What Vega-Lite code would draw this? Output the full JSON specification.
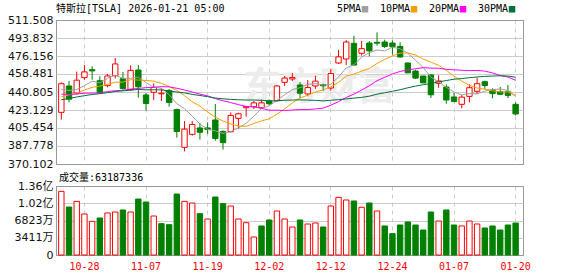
{
  "$schema": "https://vega.github.io/schema/vega-lite/v6.json",
  "padding": {"left": 0, "top": 3, "right": 5, "bottom": 2},
  "background": "white",
  "spacing": 2,
  "config": {
    "view": {"stroke": "#999999"},
    "axis": {"labelFont": "DejaVu Sans, Noto Sans CJK SC", "labelFontSize": 11, "labelColor": "#111111", "ticks": false, "domain": false, "title": null},
    "axisY": {"minExtent": 55, "maxExtent": 55, "labelPadding": 3, "grid": true,
      "gridColor": {"condition": {"test": "datum.index == 0 || datum.index == 1", "value": "#999999"}, "value": "#cccccc"}},
    "axisX": {"grid": true, "gridDash": [4, 4], "gridColor": "#cccccc", "bandPosition": 0.5}
  },
  "datasets": {
    "k": [
      {"d":"10-23","o":420.8,"h":450.3,"l":413.6,"c":448.98,"v":125900000,"dir":"up","vdir":"up","5PMA":443.46,"10PMA":435.98,"20PMA":438.70,"30PMA":433.22},
      {"d":"10-24","o":446.7,"h":451.6,"l":430.7,"c":433.72,"v":94900000,"dir":"down","vdir":"down","5PMA":442.34,"10PMA":438.01,"20PMA":438.37,"30PMA":434.48},
      {"d":"10-27","o":439.8,"h":460.8,"l":438.2,"c":452.42,"v":106100000,"dir":"up","vdir":"up","5PMA":443.34,"10PMA":439.66,"20PMA":438.83,"30PMA":435.89},
      {"d":"10-28","o":454.9,"h":467.3,"l":452.9,"c":460.55,"v":81100000,"dir":"up","vdir":"up","5PMA":446.93,"10PMA":442.79,"20PMA":439.62,"30PMA":437.19},
      {"d":"10-29","o":462.7,"h":466.0,"l":452.9,"c":461.51,"v":66600000,"dir":"down","vdir":"up","5PMA":451.44,"10PMA":445.42,"20PMA":439.72,"30PMA":438.38},
      {"d":"10-30","o":451.9,"h":456.2,"l":439.8,"c":440.10,"v":73200000,"dir":"down","vdir":"down","5PMA":449.66,"10PMA":446.56,"20PMA":439.93,"30PMA":439.15},
      {"d":"10-31","o":447.0,"h":458.5,"l":445.4,"c":456.56,"v":83100000,"dir":"up","vdir":"up","5PMA":454.23,"10PMA":448.28,"20PMA":441.26,"30PMA":440.17},
      {"d":"11-03","o":456.8,"h":474.2,"l":454.2,"c":468.37,"v":85000000,"dir":"up","vdir":"up","5PMA":457.42,"10PMA":450.38,"20PMA":442.02,"30PMA":441.31},
      {"d":"11-04","o":453.9,"h":460.4,"l":443.1,"c":444.26,"v":89000000,"dir":"down","vdir":"down","5PMA":454.16,"10PMA":450.54,"20PMA":442.58,"30PMA":441.92},
      {"d":"11-05","o":443.1,"h":467.0,"l":442.1,"c":462.07,"v":85000000,"dir":"up","vdir":"up","5PMA":454.27,"10PMA":452.85,"20PMA":443.75,"30PMA":442.57},
      {"d":"11-06","o":462.4,"h":467.3,"l":435.2,"c":445.91,"v":110700000,"dir":"down","vdir":"down","5PMA":455.43,"10PMA":452.55,"20PMA":444.26,"30PMA":443.32},
      {"d":"11-07","o":437.9,"h":439.8,"l":422.5,"c":429.52,"v":104800000,"dir":"down","vdir":"down","5PMA":450.03,"10PMA":452.13,"20PMA":445.07,"30PMA":442.95},
      {"d":"11-10","o":440.5,"h":449.3,"l":433.0,"c":445.23,"v":77100000,"dir":"up","vdir":"up","5PMA":445.40,"10PMA":451.41,"20PMA":445.53,"30PMA":443.02},
      {"d":"11-11","o":439.0,"h":444.4,"l":432.0,"c":439.62,"v":62000000,"dir":"up","vdir":"down","5PMA":444.47,"10PMA":449.32,"20PMA":446.05,"30PMA":442.85},
      {"d":"11-12","o":442.1,"h":443.8,"l":426.4,"c":430.60,"v":60000000,"dir":"down","vdir":"down","5PMA":438.18,"10PMA":446.22,"20PMA":445.82,"30PMA":441.89},
      {"d":"11-13","o":423.5,"h":424.5,"l":396.0,"c":401.99,"v":120600000,"dir":"down","vdir":"down","5PMA":429.39,"10PMA":442.41,"20PMA":444.49,"30PMA":440.76},
      {"d":"11-14","o":386.5,"h":412.3,"l":382.5,"c":404.35,"v":106100000,"dir":"up","vdir":"up","5PMA":424.36,"10PMA":437.19,"20PMA":442.74,"30PMA":439.91},
      {"d":"11-17","o":399.2,"h":412.3,"l":397.9,"c":408.92,"v":102800000,"dir":"up","vdir":"up","5PMA":417.10,"10PMA":431.25,"20PMA":440.81,"30PMA":438.43},
      {"d":"11-18","o":405.5,"h":410.4,"l":394.0,"c":401.25,"v":81700000,"dir":"down","vdir":"down","5PMA":409.42,"10PMA":426.95,"20PMA":438.75,"30PMA":437.37},
      {"d":"11-19","o":405.5,"h":411.0,"l":399.6,"c":403.99,"v":71200000,"dir":"down","vdir":"up","5PMA":404.10,"10PMA":421.14,"20PMA":437.00,"30PMA":436.21},
      {"d":"11-20","o":413.3,"h":429.0,"l":393.0,"c":395.23,"v":114700000,"dir":"down","vdir":"down","5PMA":402.75,"10PMA":416.07,"20PMA":434.31,"30PMA":434.87},
      {"d":"11-21","o":402.2,"h":402.8,"l":384.2,"c":391.09,"v":101500000,"dir":"down","vdir":"down","5PMA":400.10,"10PMA":412.23,"20PMA":432.18,"30PMA":434.12},
      {"d":"11-24","o":401.8,"h":420.8,"l":401.2,"c":417.78,"v":96900000,"dir":"up","vdir":"up","5PMA":401.87,"10PMA":409.48,"20PMA":430.45,"30PMA":433.52},
      {"d":"11-25","o":414.9,"h":420.5,"l":404.8,"c":419.40,"v":71200000,"dir":"up","vdir":"up","5PMA":405.50,"10PMA":407.46,"20PMA":428.39,"30PMA":433.19},
      {"d":"11-26","o":425.4,"h":426.9,"l":416.6,"c":426.58,"v":63900000,"dir":"up","vdir":"up","5PMA":410.02,"10PMA":407.06,"20PMA":426.64,"30PMA":432.90},
      {"d":"11-28","o":426.4,"h":432.3,"l":424.1,"c":430.17,"v":35600000,"dir":"up","vdir":"up","5PMA":417.00,"10PMA":409.88,"20PMA":426.14,"30PMA":432.95},
      {"d":"12-01","o":425.4,"h":433.3,"l":424.1,"c":430.14,"v":57400000,"dir":"up","vdir":"down","5PMA":424.81,"10PMA":412.46,"20PMA":424.82,"30PMA":432.64},
      {"d":"12-02","o":432.0,"h":433.6,"l":427.7,"c":429.24,"v":69200000,"dir":"down","vdir":"down","5PMA":427.11,"10PMA":414.49,"20PMA":422.87,"30PMA":432.04},
      {"d":"12-03","o":432.3,"h":447.4,"l":431.3,"c":446.74,"v":87000000,"dir":"up","vdir":"up","5PMA":432.57,"10PMA":419.04,"20PMA":422.99,"30PMA":432.18},
      {"d":"12-04","o":450.3,"h":456.5,"l":446.7,"c":454.53,"v":71200000,"dir":"up","vdir":"up","5PMA":438.16,"10PMA":424.09,"20PMA":422.61,"30PMA":432.69},
      {"d":"12-05","o":453.6,"h":459.5,"l":451.6,"c":455.00,"v":55400000,"dir":"up","vdir":"up","5PMA":443.13,"10PMA":430.07,"20PMA":423.07,"30PMA":432.89},
      {"d":"12-08","o":447.7,"h":450.6,"l":434.9,"c":439.58,"v":69200000,"dir":"down","vdir":"down","5PMA":445.02,"10PMA":434.92,"20PMA":423.57,"30PMA":433.09},
      {"d":"12-09","o":438.9,"h":452.6,"l":436.6,"c":445.17,"v":61300000,"dir":"up","vdir":"up","5PMA":448.20,"10PMA":437.66,"20PMA":423.57,"30PMA":432.85},
      {"d":"12-10","o":446.7,"h":456.8,"l":443.8,"c":451.45,"v":63300000,"dir":"up","vdir":"up","5PMA":449.15,"10PMA":440.86,"20PMA":424.16,"30PMA":432.55},
      {"d":"12-11","o":448.0,"h":449.0,"l":441.8,"c":446.89,"v":55400000,"dir":"down","vdir":"down","5PMA":447.62,"10PMA":442.89,"20PMA":424.97,"30PMA":432.06},
      {"d":"12-12","o":444.7,"h":463.4,"l":442.1,"c":458.96,"v":96900000,"dir":"up","vdir":"up","5PMA":448.41,"10PMA":445.77,"20PMA":427.82,"30PMA":432.69},
      {"d":"12-15","o":469.3,"h":482.0,"l":468.3,"c":475.31,"v":114000000,"dir":"up","vdir":"up","5PMA":455.56,"10PMA":450.29,"20PMA":431.37,"30PMA":433.31},
      {"d":"12-16","o":473.2,"h":491.9,"l":467.3,"c":489.88,"v":108800000,"dir":"up","vdir":"up","5PMA":464.50,"10PMA":456.35,"20PMA":435.42,"30PMA":434.03},
      {"d":"12-17","o":488.6,"h":496.1,"l":466.8,"c":467.26,"v":106800000,"dir":"down","vdir":"down","5PMA":467.66,"10PMA":458.40,"20PMA":438.72,"30PMA":434.80},
      {"d":"12-18","o":478.8,"h":490.9,"l":476.5,"c":483.37,"v":94300000,"dir":"up","vdir":"up","5PMA":474.96,"10PMA":461.29,"20PMA":442.69,"30PMA":435.51},
      {"d":"12-19","o":488.9,"h":490.9,"l":475.8,"c":481.20,"v":102800000,"dir":"down","vdir":"down","5PMA":479.40,"10PMA":463.91,"20PMA":446.99,"30PMA":436.68},
      {"d":"12-22","o":489.6,"h":499.4,"l":486.3,"c":488.73,"v":87000000,"dir":"down","vdir":"up","5PMA":482.09,"10PMA":468.82,"20PMA":451.87,"30PMA":438.66},
      {"d":"12-23","o":489.9,"h":492.2,"l":484.0,"c":485.56,"v":57400000,"dir":"down","vdir":"down","5PMA":481.22,"10PMA":472.86,"20PMA":455.26,"30PMA":440.00},
      {"d":"12-24","o":488.9,"h":491.5,"l":477.5,"c":485.40,"v":42200000,"dir":"down","vdir":"down","5PMA":484.85,"10PMA":476.26,"20PMA":458.56,"30PMA":441.53},
      {"d":"12-26","o":485.6,"h":489.6,"l":474.5,"c":475.19,"v":59300000,"dir":"down","vdir":"down","5PMA":483.22,"10PMA":479.09,"20PMA":460.99,"30PMA":443.01},
      {"d":"12-29","o":469.3,"h":469.6,"l":459.3,"c":459.64,"v":65300000,"dir":"down","vdir":"down","5PMA":478.90,"10PMA":479.15,"20PMA":462.46,"30PMA":444.93},
      {"d":"12-30","o":461.4,"h":462.7,"l":453.6,"c":454.43,"v":59300000,"dir":"down","vdir":"down","5PMA":472.04,"10PMA":477.07,"20PMA":463.68,"30PMA":446.60},
      {"d":"12-31","o":456.5,"h":456.8,"l":449.6,"c":449.72,"v":49400000,"dir":"down","vdir":"down","5PMA":464.88,"10PMA":473.05,"20PMA":464.70,"30PMA":447.96},
      {"d":"01-02","o":457.5,"h":458.5,"l":434.9,"c":438.07,"v":85000000,"dir":"down","vdir":"down","5PMA":455.41,"10PMA":470.13,"20PMA":464.27,"30PMA":449.19},
      {"d":"01-05","o":449.3,"h":457.2,"l":445.0,"c":451.67,"v":67200000,"dir":"up","vdir":"up","5PMA":450.71,"10PMA":466.96,"20PMA":464.12,"30PMA":450.78},
      {"d":"01-06","o":445.7,"h":448.3,"l":429.3,"c":432.96,"v":89000000,"dir":"down","vdir":"down","5PMA":445.37,"10PMA":462.14,"20PMA":463.02,"30PMA":452.04},
      {"d":"01-07","o":435.9,"h":439.8,"l":431.0,"c":431.41,"v":59300000,"dir":"down","vdir":"down","5PMA":440.77,"10PMA":456.41,"20PMA":462.61,"30PMA":453.38},
      {"d":"01-08","o":428.7,"h":437.9,"l":424.8,"c":435.80,"v":57400000,"dir":"up","vdir":"up","5PMA":437.98,"10PMA":451.43,"20PMA":462.15,"30PMA":453.98},
      {"d":"01-09","o":436.5,"h":448.3,"l":430.7,"c":445.01,"v":67200000,"dir":"up","vdir":"up","5PMA":439.37,"10PMA":447.39,"20PMA":461.82,"30PMA":454.84},
      {"d":"01-12","o":441.5,"h":454.9,"l":438.8,"c":448.96,"v":61300000,"dir":"up","vdir":"up","5PMA":438.83,"10PMA":444.77,"20PMA":461.93,"30PMA":455.58},
      {"d":"01-13","o":450.9,"h":451.9,"l":443.8,"c":447.20,"v":53400000,"dir":"down","vdir":"down","5PMA":441.68,"10PMA":443.52,"20PMA":461.34,"30PMA":456.15},
      {"d":"01-14","o":442.8,"h":444.4,"l":434.6,"c":439.20,"v":57400000,"dir":"down","vdir":"down","5PMA":443.23,"10PMA":442.00,"20PMA":459.53,"30PMA":456.45},
      {"d":"01-15","o":441.1,"h":445.7,"l":438.2,"c":438.57,"v":49400000,"dir":"down","vdir":"down","5PMA":443.79,"10PMA":440.89,"20PMA":456.97,"30PMA":456.76},
      {"d":"01-16","o":441.1,"h":447.7,"l":434.9,"c":437.50,"v":59300000,"dir":"down","vdir":"down","5PMA":442.29,"10PMA":440.83,"20PMA":455.48,"30PMA":456.45},
      {"d":"01-20","o":428.7,"h":430.7,"l":417.9,"c":419.25,"v":63187336,"dir":"down","vdir":"down","5PMA":436.34,"10PMA":437.59,"20PMA":452.27,"30PMA":455.28}
    ]
  },
  "vconcat": [
    {
      "width": 467,
      "height": 144,
      "title": {"text": "特斯拉[TSLA] 2026-01-21 05:00", "anchor": "start", "frame": "group", "font": "DejaVu Sans Mono, Noto Sans CJK SC", "fontSize": 10, "fontWeight": "normal", "color": "#000000", "offset": 0},
      "encoding": {
        "x": {"field": "d", "type": "ordinal", "sort": null,
          "scale": {"type": "band", "paddingInner": 0.3, "paddingOuter": 0.475, "align": 0.36,
            "domain": ["10-23","10-24","10-27","10-28","10-29","10-30","10-31","11-03","11-04","11-05","11-06","11-07","11-10","11-11","11-12","11-13","11-14","11-17","11-18","11-19","11-20","11-21","11-24","11-25","11-26","11-28","12-01","12-02","12-03","12-04","12-05","12-08","12-09","12-10","12-11","12-12","12-15","12-16","12-17","12-18","12-19","12-22","12-23","12-24","12-26","12-29","12-30","12-31","01-02","01-05","01-06","01-07","01-08","01-09","01-12","01-13","01-14","01-15","01-16","01-20"]},
          "axis": {"labels": false, "values": ["10-28","11-07","11-19","12-02","12-12","12-24","01-07","01-20"], "minExtent": 0, "maxExtent": 0}}
      },
      "layer": [
        {
          "data": {"values": [{"wm": "东方财富"}]},
          "mark": {"type": "text", "font": "Noto Sans CJK SC", "fontSize": 38, "fontWeight": "bold", "color": "#ececec", "dx": 4},
          "encoding": {
            "x": {"datum": "12-10", "type": "ordinal"},
            "y": {"datum": 444.7, "type": "quantitative", "scale": {"domain": [370.102, 511.508], "nice": false, "zero": false},
              "axis": {"values": [370.102, 387.778, 405.454, 423.129, 440.805, 458.481, 476.156, 493.832, 511.508], "format": ".3f"}},
            "text": {"field": "wm"}
          }
        },
        {
          "data": {"name": "k"},
          "mark": {"type": "rule", "strokeWidth": 1},
          "encoding": {
            "y": {"field": "l", "type": "quantitative", "scale": {"domain": [370.102, 511.508], "nice": false, "zero": false},
              "axis": {"values": [370.102, 387.778, 405.454, 423.129, 440.805, 458.481, 476.156, 493.832, 511.508], "format": ".3f"}},
            "y2": {"field": "h"},
            "stroke": {"field": "dir", "type": "nominal", "scale": {"domain": ["up", "down"], "range": ["#ff0000", "#008000"]}, "legend": null}
          }
        },
        {
          "data": {"name": "k"},
          "mark": {"type": "bar", "strokeWidth": 1},
          "encoding": {
            "y": {"field": "o", "type": "quantitative", "scale": {"domain": [370.102, 511.508], "nice": false, "zero": false},
              "axis": {"values": [370.102, 387.778, 405.454, 423.129, 440.805, 458.481, 476.156, 493.832, 511.508], "format": ".3f"}},
            "y2": {"field": "c"},
            "fill": {"field": "dir", "type": "nominal", "scale": {"domain": ["up", "down"], "range": ["#ffffff", "#008000"]}, "legend": null},
            "stroke": {"field": "dir", "type": "nominal", "legend": null}
          }
        },
        {
          "data": {"name": "k"},
          "transform": [{"fold": ["5PMA", "10PMA", "20PMA", "30PMA"], "as": ["ma", "value"]}],
          "mark": {"type": "line", "strokeWidth": 1},
          "encoding": {
            "y": {"field": "value", "type": "quantitative", "scale": {"domain": [370.102, 511.508], "nice": false, "zero": false},
              "axis": {"values": [370.102, 387.778, 405.454, 423.129, 440.805, 458.481, 476.156, 493.832, 511.508], "format": ".3f"}},
            "color": {"field": "ma", "type": "nominal",
              "scale": {"domain": ["5PMA", "10PMA", "20PMA", "30PMA"], "range": ["#a0a0a0", "#f5a000", "#ff00ff", "#00703c"]},
              "legend": {"orient": "none", "legendX": 304, "legendY": -16, "direction": "horizontal", "title": null,
                "symbolType": "square", "symbolSize": 25, "labelFont": "DejaVu Sans Mono", "labelFontSize": 10, "labelColor": "#000000",
                "labelAlign": "right", "labelOffset": -9, "columnPadding": 8,
                "encode": {"symbols": {"update": {"fill": {"scale": "color", "field": "value"}}}}}
            }
          }
        }
      ]
    },
    {
      "width": 467,
      "height": 69,
      "title": {"text": "成交量:63187336", "anchor": "start", "frame": "group", "font": "DejaVu Sans Mono, Noto Sans CJK SC", "fontSize": 10, "fontWeight": "normal", "color": "#000000", "offset": -3, "dx": 3},
      "data": {"name": "k"},
      "mark": {"type": "bar", "strokeWidth": 1},
      "encoding": {
        "x": {"field": "d", "type": "ordinal", "sort": null,
          "scale": {"type": "band", "paddingInner": 0.3, "paddingOuter": 0.475, "align": 0.36,
            "domain": ["10-23","10-24","10-27","10-28","10-29","10-30","10-31","11-03","11-04","11-05","11-06","11-07","11-10","11-11","11-12","11-13","11-14","11-17","11-18","11-19","11-20","11-21","11-24","11-25","11-26","11-28","12-01","12-02","12-03","12-04","12-05","12-08","12-09","12-10","12-11","12-12","12-15","12-16","12-17","12-18","12-19","12-22","12-23","12-24","12-26","12-29","12-30","12-31","01-02","01-05","01-06","01-07","01-08","01-09","01-12","01-13","01-14","01-15","01-16","01-20"]},
          "axis": {"values": ["10-28","11-07","11-19","12-02","12-12","12-24","01-07","01-20"], "labelColor": "#ff0000", "labelFont": "DejaVu Sans Mono", "labelFontSize": 10, "labelPadding": 6, "labelAngle": 0}},
        "y": {"field": "v", "type": "quantitative", "scale": {"domain": [0, 136460000], "nice": false},
          "axis": {"values": [0, 34115000, 68230000, 102345000, 136460000],
            "labelExpr": "datum.value == 0 ? '0' : (datum.value >= 100000000 ? format(datum.value / 100000000, '.2f') + '亿' : format(floor(datum.value / 10000), 'd') + '万')"}},
        "fill": {"field": "vdir", "type": "nominal", "scale": {"domain": ["up", "down"], "range": ["#ffffff", "#008000"]}, "legend": null},
        "stroke": {"field": "vdir", "type": "nominal", "scale": {"domain": ["up", "down"], "range": ["#ff0000", "#008000"]}, "legend": null}
      }
    }
  ]
}
